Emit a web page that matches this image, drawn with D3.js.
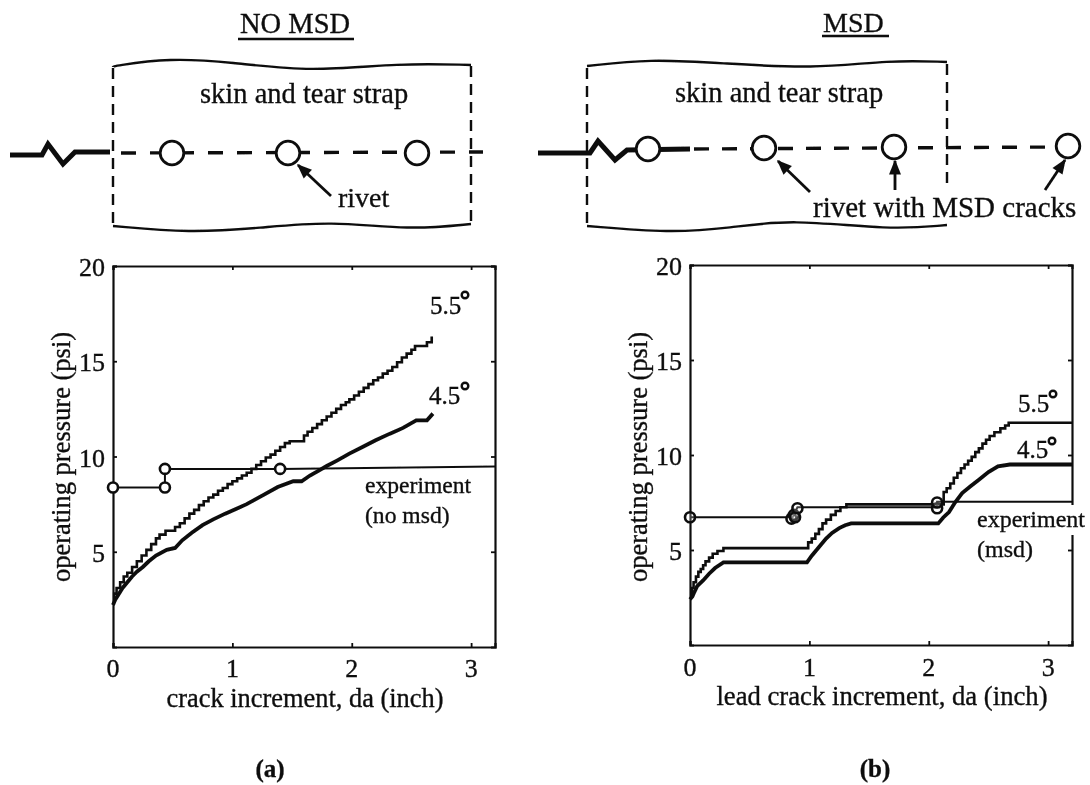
<!DOCTYPE html>
<html><head><meta charset="utf-8">
<script src="https://cdn.jsdelivr.net/npm/d3@7"></script>
<style>
html,body{margin:0;padding:0;background:#fff}
svg{display:block}
text{font-family:"Liberation Serif",serif;fill:#111;stroke:#111;stroke-width:.35px}
</style></head><body>
<svg id="c" width="1090" height="785"></svg>
<script>
// ---- chart data ----
const xTicks = [0, 1, 2, 3];
const yTicks = [5, 10, 15, 20];

const noMsd55X = [0,.01,.03,.06,.09,.12,.16,.2,.24,.28,.32,.36,.39,.44,.52,.56,.6,.64,.68,.72,.76,.8,.84,.88,.92,.96,1,1.04,1.08,1.12,1.16,1.2,1.24,1.28,1.32,1.36,1.4,1.44,1.48,1.58,1.6,1.63,1.67,1.71,1.75,1.79,1.83,1.87,1.91,1.95,1.98,2.02,2.06,2.1,2.14,2.18,2.22,2.26,2.3,2.34,2.38,2.42,2.46,2.5,2.53,2.61,2.63,2.67];
const noMsd55Y = [2.4,2.8,3.1,3.4,3.7,3.9,4.2,4.5,4.8,5.1,5.4,5.7,5.9,6.1,6.3,6.5,6.75,7,7.2,7.45,7.65,7.85,8,8.2,8.35,8.55,8.7,8.85,9,9.15,9.35,9.55,9.75,9.95,10.1,10.3,10.5,10.7,10.8,10.8,11.1,11.3,11.5,11.7,11.9,12.1,12.3,12.5,12.7,12.85,13,13.2,13.4,13.6,13.8,14,14.15,14.35,14.5,14.7,14.95,15.2,15.4,15.6,15.8,15.8,16,16.3];

const noMsd45X = [0,.02,.05,.08,.12,.16,.20,.25,.30,.36,.45,.52,.58,.66,.75,.84,.94,1.03,1.12,1.25,1.38,1.51,1.58,1.65,1.72,1.79,1.88,1.98,2.09,2.20,2.32,2.43,2.54,2.63,2.68];
const noMsd45Y = [2.2,2.5,2.8,3.1,3.4,3.7,3.95,4.2,4.5,4.8,5.1,5.2,5.6,6,6.4,6.7,7,7.25,7.5,7.95,8.4,8.7,8.7,9,9.25,9.5,9.8,10.15,10.5,10.85,11.2,11.5,11.9,11.9,12.25];

const noMsdExpX = [0, 0.435, 0.435, 1.4, 3.2];
const noMsdExpY = [8.37, 8.37, 9.35, 9.35, 9.47];
const noMsdExpMarkX = [0, 0.435, 0.435, 1.4];
const noMsdExpMarkY = [8.37, 8.37, 9.35, 9.35];

const msd55X = [0,.015,.03,.05,.07,.09,.11,.13,.16,.19,.23,.28,.98,.99,1.02,1.05,1.08,1.11,1.14,1.18,1.22,1.26,1.31,2.11,2.125,2.15,2.18,2.21,2.24,2.27,2.3,2.33,2.36,2.39,2.42,2.45,2.48,2.51,2.55,2.6,2.64,2.67,3.2];
const msd55Y = [2.6,3,3.3,3.6,3.85,4,4.2,4.4,4.6,4.8,4.95,5.1,5.1,5.4,5.6,5.85,6.1,6.4,6.6,6.85,7.05,7.25,7.4,7.4,8.05,8.25,8.5,8.8,9.05,9.3,9.5,9.7,9.9,10.15,10.35,10.6,10.8,11,11.2,11.4,11.55,11.7,11.7];

const msd45X = [0,.02,.03,.06,.11,.16,.21,.28,.98,1.02,1.06,1.10,1.14,1.19,1.25,1.30,1.35,2.08,2.12,2.17,2.22,2.28,2.35,2.42,2.50,2.58,2.68,3.2];
const msd45Y = [2.4,2.55,2.7,3.1,3.4,3.75,4.05,4.35,4.35,4.7,5,5.3,5.6,5.9,6.15,6.3,6.4,6.4,6.7,7,7.5,8,8.35,8.7,9.1,9.4,9.5,9.5];

const msdExpX = [0, 0.86, 0.9, 2.07, 2.07, 3.2];
const msdExpY = [6.72, 6.72, 7.25, 7.25, 7.54, 7.54];
const msdExpMarkX = [0, 0.85, 0.87, 0.88, 0.9, 2.07, 2.07];
const msdExpMarkY = [6.72, 6.65, 6.85, 6.72, 7.2, 7.2, 7.5];

// ---- helpers ----
const svg = d3.select("#c");
const zip = (a, b) => a.map((v, i) => [v, b[i]]);
svg.append("defs").append("filter").attr("id","soft")
  .append("feGaussianBlur").attr("stdDeviation",0.45);
const root = svg.append("g").attr("filter","url(#soft)");

function panel(o) {
  const x = d3.scaleLinear().domain([0, 3.2]).range([o.left, o.right]);
  const y = d3.scaleLinear().domain([0, 20]).range([o.bottom, o.top]);
  const g = root.append("g");
  const line = d3.line().x(d => x(d[0])).y(d => y(d[1]));

  const axes = [
    [d3.axisBottom(x).tickValues(xTicks).tickSize(-4).tickFormat(""), 0, o.bottom],
    [d3.axisTop(x).tickValues(xTicks).tickSize(-4).tickFormat(""), 0, o.top],
    [d3.axisLeft(y).tickValues(yTicks).tickSize(-4).tickFormat(""), o.left, 0],
    [d3.axisRight(y).tickValues(yTicks).tickSize(-4).tickFormat(""), o.right, 0]
  ];
  axes.forEach(([ax, tx, ty]) => {
    const a = g.append("g").attr("transform", `translate(${tx},${ty})`).call(ax);
    a.selectAll("path").attr("stroke", "#111").attr("stroke-width", 2.2);
    a.selectAll("line").attr("stroke", "#111").attr("stroke-width", 1.8);
  });

  g.append("path").attr("d", line.curve(d3.curveStepAfter)(zip(o.s55x, o.s55y)))
    .attr("fill", "none").attr("stroke", "#0c0c0c").attr("stroke-width", 2.6);
  g.append("path").attr("d", line.curve(d3.curveLinear)(zip(o.s45x, o.s45y)))
    .attr("fill", "none").attr("stroke", "#0c0c0c").attr("stroke-width", 3.8);
  g.append("path").attr("d", line(zip(o.ex, o.ey))).attr("fill", "none").attr("stroke", "#111").attr("stroke-width", 2);
  g.selectAll("circle").data(zip(o.mx, o.my)).join("circle")
    .attr("cx", d => x(d[0])).attr("cy", d => y(d[1])).attr("r", 5)
    .attr("fill", "#fff").attr("fill-opacity", o.markFill).attr("stroke", "#111").attr("stroke-width", 2.6);

  g.selectAll("text.xt").data(xTicks).join("text").attr("class", "xt")
    .attr("x", d => x(d)).attr("y", o.tickBase).attr("text-anchor", "middle")
    .attr("font-size", 26).text(d => d);
  g.selectAll("text.yt").data(yTicks).join("text").attr("class", "yt")
    .attr("x", o.left - 8).attr("y", d => y(d) + 10).attr("text-anchor", "end")
    .attr("font-size", 26).text(d => d);
}

function label(t, x, y, size, anchor) {
  return root.append("text").attr("x", x).attr("y", y).attr("font-size", size)
    .attr("text-anchor", anchor || "start").text(t);
}

// ---- plots ----
panel({left:113, right:495, top:266, bottom:647, tickBase:677,
  s55x:noMsd55X, s55y:noMsd55Y, s45x:noMsd45X, s45y:noMsd45Y,
  ex:noMsdExpX, ey:noMsdExpY, mx:noMsdExpMarkX, my:noMsdExpMarkY, markFill:1});
panel({left:690, right:1072, top:265, bottom:645, tickBase:676,
  s55x:msd55X, s55y:msd55Y, s45x:msd45X, s45y:msd45Y,
  ex:msdExpX, ey:msdExpY, mx:msdExpMarkX, my:msdExpMarkY, markFill:0.2});

// white patch behind the label that interrupts the right-hand frame
root.append("rect").attr("x", 1060).attr("y", 505).attr("width", 30).attr("height", 30).attr("fill", "#fff");

// ---- text ----
label("operating pressure (psi)", 0, 0, 26.5, "middle").attr("transform", "translate(70,457) rotate(-90)");
label("operating pressure (psi)", 0, 0, 26.5, "middle").attr("transform", "translate(647,457) rotate(-90)");
label("crack increment, da (inch)", 305, 707, 26.4, "middle");
label("lead crack increment, da (inch)", 882, 705, 26.7, "middle");
label("(a)", 270, 777, 25, "middle").attr("font-weight", "bold");
label("(b)", 875, 777, 25, "middle").attr("font-weight", "bold");
[["5.5",430,314],["4.5",429,404],["5.5",1018,412],["4.5",1017,458]].forEach(d => {
  label(d[0], d[1], d[2], 25);
});
[[465,295],[465,386],[1053,394],[1052,441]].forEach(d => {
  root.append("circle").attr("cx", d[0]).attr("cy", d[1]).attr("r", 3.3).attr("fill","none").attr("stroke","#111").attr("stroke-width",2.4);
});
label("experiment", 365, 493, 23.6);
label("(no msd)", 365, 523, 23.6);
label("experiment", 977, 527, 24);
label("(msd)", 977, 557, 24);

label("NO MSD", 240, 33, 28.5);
label("MSD", 823, 32, 28);
label("skin and tear strap", 200, 103, 28.5);
label("skin and tear strap", 675, 102, 28.5);
label("rivet", 338, 207, 28);
label("rivet with MSD cracks", 813, 217, 29);

// ---- schematics (not data: drawn in page units) ----
const sx = d3.scaleIdentity(), sy = d3.scaleIdentity();
svg.select("defs").append("marker").attr("id","arw").attr("viewBox","0 0 10 10").attr("refX",9).attr("refY",5)
  .attr("markerWidth",17).attr("markerHeight",15).attr("markerUnits","userSpaceOnUse").attr("orient","auto")
  .append("path").attr("d","M0,1 L10,5 L0,9 Z").attr("fill","#111");

function path(pts, w, dash, curved) {
  const gen = d3.line().x(d => sx(d[0])).y(d => sy(d[1]));
  if (curved) gen.curve(d3.curveBasis);
  const p = root.append("path").attr("d", gen(pts)).attr("fill","none").attr("stroke","#111").attr("stroke-width",w);
  if (dash) p.attr("stroke-dasharray", dash);
  return p;
}
function rivet(x, y) {
  root.append("circle").attr("cx",x).attr("cy",y).attr("r",11.8).attr("fill","#fff").attr("stroke","#111").attr("stroke-width",2.8);
}
function arrow(a, b) {
  path([a, b], 2.8).attr("marker-end","url(#arw)");
}

// left schematic
path([[113,67],[113,66],[170,58],[230,62],[310,72],[400,63],[471,65],[471,65]], 2.4, null, true);
path([[113,226],[113,226],[190,233],[260,228],[330,221],[410,230],[471,224],[471,224]], 2.4, null, true);
path([[113,68],[113,226]], 2.4, "11 7");
path([[471,66],[471,224]], 2.4, "11 7");
path([[10,155],[42,155],[48,144],[63,164],[75,152],[110,152]], 5);
path([[121,153],[483,152]], 3.4, "15 14");
[[172,153],[288,153],[417,153]].forEach(d => rivet(d[0], d[1]));
arrow([331,196],[298,165]);

// right schematic
path([[587,66],[587,66],[650,59],[720,63],[813,69],[890,60],[947,62],[947,62]], 2.4, null, true);
path([[587,226],[587,226],[670,233],[730,228],[790,219],[890,230],[947,225],[947,225]], 2.4, null, true);
path([[587,68],[587,226]], 2.4, "11 7");
path([[947,64],[947,190]], 2.4, "11 7");
path([[538,153],[590,153],[598,141],[615,160],[627,150],[690,149]], 5);
path([[694,149],[1060,147]], 3.4, "15 13");
[[648,149],[764,148],[894,147],[1068,146]].forEach(d => rivet(d[0], d[1]));
arrow([810,192],[778,161]);
arrow([895,190],[895,161]);
arrow([1045,190],[1065,160]);

// underlines of the headings
path([[238,39],[354,39]], 2.4);
path([[822,36],[889,36]], 2.4);
</script>
</body></html>
